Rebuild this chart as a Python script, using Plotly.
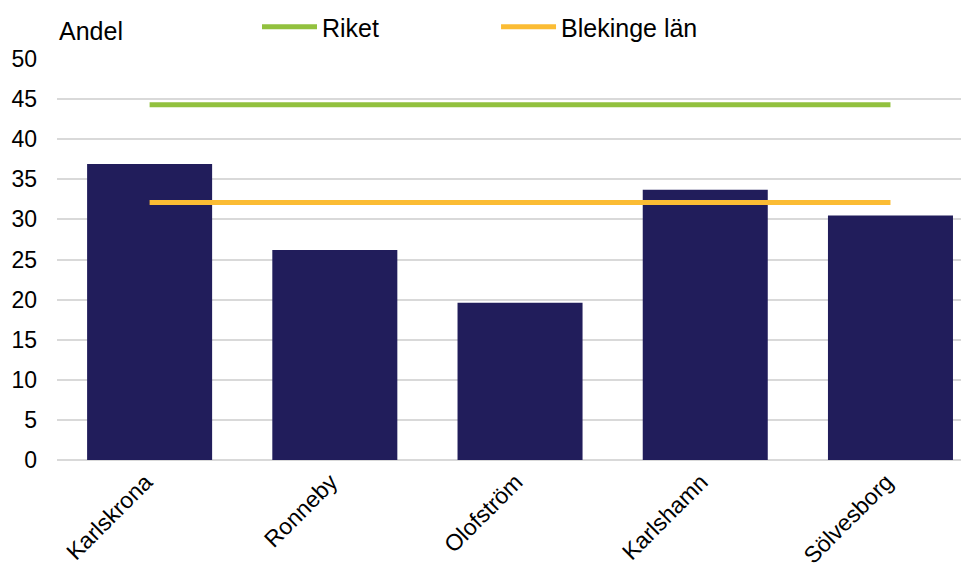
import plotly.graph_objects as go

categories = ["Karlskrona", "Ronneby", "Olofström", "Karlshamn", "Sölvesborg"]
andel = [36.9, 26.2, 19.6, 33.7, 30.5]
riket = [44.3, 44.3, 44.3, 44.3, 44.3]
blekinge = [32.1, 32.1, 32.1, 32.1, 32.1]
y_ticks = [0, 5, 10, 15, 20, 25, 30, 35, 40, 45, 50]

FONT = "Liberation Sans, Arial, sans-serif"

fig = go.Figure()
fig.add_trace(go.Bar(x=categories, y=andel, name="Andel", marker_color="#211D5B",
                     marker_line_width=0, width=0.675, showlegend=False))
fig.add_trace(go.Scatter(x=categories, y=riket, name="Riket", mode="lines",
                         line=dict(color="#92C13E", width=5), legend="legend"))
fig.add_trace(go.Scatter(x=categories, y=blekinge, name="Blekinge län", mode="lines",
                         line=dict(color="#FBBC34", width=5), legend="legend2"))

leg_common = dict(orientation="h", yanchor="middle", y=1.0797, xanchor="left",
                  font=dict(size=25), itemwidth=55, bgcolor="rgba(0,0,0,0)")

fig.update_layout(
    width=969, height=569,
    margin=dict(l=49, r=8, t=51, b=116.5, autoexpand=False),
    paper_bgcolor="white", plot_bgcolor="white",
    font=dict(family=FONT, size=23, color="#000000"),
    legend=dict(x=0.2193, **leg_common),
    legend2=dict(x=0.4814, **leg_common),
    xaxis=dict(range=[-0.5, 4.424], tickangle=-45, showgrid=False, showline=False,
               ticks="", tickfont=dict(size=23), automargin=False,
               ticklabelstandoff=3, ticklabelshift=-4),
    yaxis=dict(range=[0, 50], tickvals=y_ticks, showgrid=True, gridcolor="#D9D9D9",
               gridwidth=1.5, zeroline=True, zerolinecolor="#D9D9D9", zerolinewidth=1.5,
               showline=False, ticks="", ticklabelstandoff=19, tickfont=dict(size=23),
               automargin=False),
    annotations=[dict(text="Andel", xref="paper", yref="paper", x=0.0, y=1.0697,
                      xanchor="left", yanchor="middle", showarrow=False,
                      font=dict(size=25, family=FONT))],
)

fig.write_html("out.html")
